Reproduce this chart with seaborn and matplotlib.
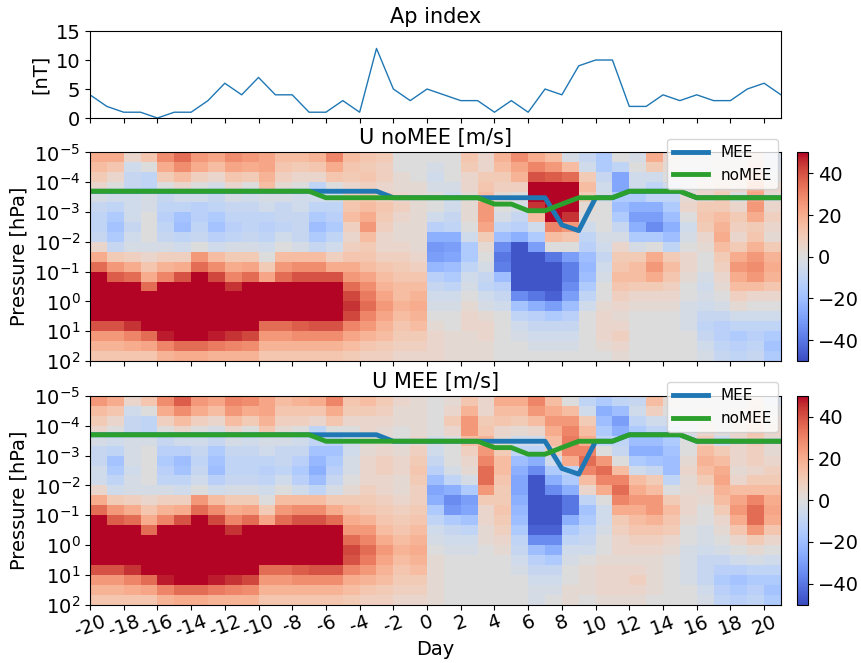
import numpy as np
import pandas as pd
import matplotlib
matplotlib.use('Agg')
import matplotlib.pyplot as plt
import seaborn as sns
from matplotlib.ticker import NullLocator

plt.rcParams['font.size'] = 14

# days -20..21 (cell edges of the heatmaps, points of the lines)
days = np.arange(-20, 22)
ap = [4, 2, 1, 1, 0, 1, 1, 3, 6, 4, 7, 4, 4, 1, 1, 3, 1, 12, 5, 3, 5,
      4, 3, 3, 1, 3, 1, 5, 4, 9, 10, 10, 2, 2, 4, 3, 4, 3, 3, 5, 6, 4]

mee_p = [2.0e-4] * 18 + [3.3e-4] * 10 + [2.7e-3, 4.2e-3, 3.3e-4, 3.3e-4] + [2.0e-4] * 4 + [3.3e-4] * 6
nomee_p = ([2.0e-4] * 14 + [3.3e-4] * 10 + [5.4e-4, 5.4e-4, 9.0e-4, 9.0e-4, 5.4e-4]
           + [3.3e-4] * 3 + [2.0e-4] * 4 + [3.3e-4] * 6)

# pressure cell edges, 3 per decade from 1e-5 to 1e2 hPa
p_edges = np.logspace(-5, 2, 22)

# wind profiles per day (top = 1e-5 hPa ... bottom = 1e2 hPa), m/s
u_nomee_cols = [
    [20, 15, 10, 5, -3, -8, -10, -10, -8, 5, 20, 35, 50, 50, 50, 50, 50, 40, 25, 18, 12],
    [20, 12, 5, 0, -5, -10, -15, -18, -15, -8, 10, 25, 38, 50, 50, 50, 50, 40, 25, 18, 12],
    [5, -5, -8, -8, -5, -5, -5, -8, -5, -3, 8, 20, 35, 50, 50, 50, 50, 45, 30, 20, 12],
    [12, 0, -10, -10, -3, -3, 0, 0, 0, -3, 5, 12, 20, 35, 50, 50, 50, 50, 35, 22, 12],
    [28, 20, 10, 0, -8, -10, -12, -10, -8, -3, 8, 18, 30, 50, 50, 50, 50, 50, 48, 30, 18],
    [35, 28, 15, 5, -5, -10, -18, -20, -10, -5, 8, 20, 40, 50, 50, 50, 50, 50, 50, 35, 20],
    [25, 20, 8, 0, -5, -12, -12, -10, -8, 0, 25, 35, 50, 50, 50, 50, 50, 50, 50, 35, 20],
    [22, 15, 5, -3, -8, -10, -15, -18, -12, -5, 15, 28, 42, 50, 50, 50, 50, 50, 48, 32, 18],
    [28, 22, 12, 5, -3, -8, -10, -12, -10, -3, 10, 20, 30, 45, 50, 50, 50, 50, 45, 30, 18],
    [25, 20, 10, 0, -5, -8, -10, -10, -8, -3, 10, 22, 35, 50, 50, 50, 50, 50, 42, 28, 18],
    [22, 22, 18, 15, -3, -5, -10, -12, -10, -5, 0, 10, 22, 50, 50, 50, 50, 35, 25, 18, 12],
    [15, 12, 8, 3, -3, -8, -8, -10, -5, 0, 15, 25, 35, 50, 50, 50, 50, 35, 25, 18, 12],
    [15, 10, 5, 0, -5, -5, -8, -8, -8, -3, 15, 28, 40, 50, 50, 50, 50, 38, 28, 18, 12],
    [18, 12, 5, -10, -5, -10, -15, -20, -15, -8, 15, 28, 40, 50, 50, 50, 50, 40, 28, 18, 12],
    [30, 20, 12, 0, -5, -10, -12, -15, -10, -5, 8, 20, 40, 50, 50, 50, 50, 40, 28, 18, 12],
    [15, 12, 10, 5, 10, 12, 15, 8, 5, 8, 12, 20, 25, 35, 42, 45, 42, 30, 22, 15, 10],
    [12, 10, 12, 8, 12, 15, 20, 25, 15, 10, 12, 15, 22, 28, 32, 35, 30, 25, 18, 12, 8],
    [10, 8, 8, 5, 8, 12, 10, 8, 5, 5, 8, 12, 15, 18, 22, 25, 22, 18, 15, 10, 8],
    [0, 0, 3, 3, 5, 8, 5, 3, 3, 5, 8, 10, 12, 15, 15, 18, 15, 12, 10, 8, 5],
    [0, 0, 0, 3, 3, 3, 3, 3, 3, 3, 5, 8, 12, 15, 18, 20, 18, 15, 10, 8, 5],
    [0, -3, -5, -3, 0, 0, -5, -12, -25, -32, -30, -22, -12, -8, -5, -3, 0, 3, 5, 5, 5],
    [0, 0, 0, -3, -5, -5, -8, -10, -25, -30, -28, -20, -15, -10, -5, -3, 0, 0, 3, 3, 3],
    [12, 10, 5, 5, 3, 3, 3, 0, -5, -15, -15, -10, -5, -3, 0, 3, 5, 5, 3, 3, 3],
    [5, 5, 10, 12, 15, 25, 25, 22, 10, 3, 0, -3, -8, -10, -5, -3, 3, 5, 5, 3, 3],
    [18, 15, 10, 8, 3, 0, -3, -10, -20, -35, -40, -38, -20, -12, -8, -5, 0, 0, 0, 0, 0],
    [28, 22, 18, 8, 0, -3, -8, -12, -25, -48, -48, -48, -48, -48, -35, -18, -10, -5, -3, 0, 0],
    [20, 30, 40, 50, 50, 45, 15, -5, -15, -30, -48, -48, -48, -48, -40, -25, -12, -8, -5, -3, 0],
    [15, 25, 38, 50, 50, 50, 50, 30, 15, 0, -40, -48, -48, -48, -45, -30, -15, -8, -5, -3, 0],
    [-3, 15, 35, 50, 50, 50, 45, 25, 12, 0, -30, -38, -38, -35, -30, -20, -12, -8, -5, -3, 0],
    [-8, -5, 10, 15, 10, 3, 0, -5, -10, -12, -20, -22, -20, -15, -10, -5, 0, 0, 0, 0, 0],
    [-15, -15, -8, -5, -3, 0, 0, 0, -3, -5, -8, -5, -3, 0, 0, 3, 5, 5, 5, 3, 0],
    [0, -10, -28, -28, -15, -20, -15, -8, -3, 5, 10, 12, 15, 12, 8, 5, 3, 5, 8, 5, 3],
    [-3, 0, -5, -5, -15, -25, -30, -25, -15, -3, 10, 15, 15, 10, 5, 3, 0, 0, 0, 0, 0],
    [20, 10, -5, -10, -10, -25, -30, -35, -15, 0, 20, 25, 20, 10, 5, 3, 0, 0, 0, 0, 0],
    [5, 3, 0, -5, -10, -15, -20, -25, -20, -10, 10, 15, 12, 8, 5, 3, 0, 0, 0, 0, 0],
    [0, 0, 0, 0, 3, 5, 0, -5, -3, 0, 5, 5, 3, 0, 0, -3, -3, -3, 0, 0, 0],
    [0, 0, 3, 5, 5, 10, 12, 10, 5, 3, 0, 0, -3, -5, -3, -5, -8, -10, -8, -5, -3],
    [0, 3, 5, 8, 10, 10, 15, 18, 20, 15, 10, 8, 5, 3, 0, -3, -8, -12, -12, -10, -8],
    [0, 3, 5, 5, 0, 5, 10, 8, 5, 10, 20, 25, 20, 15, 8, 3, -5, -10, -15, -12, -10],
    [5, 10, 15, 20, 22, 25, 20, 10, 12, 18, 25, 28, 25, 15, 5, 0, -5, -10, -12, -10, -8],
    [-5, -3, 0, 5, 3, 5, 8, 5, 3, 10, 18, 20, 18, 12, 5, 0, -5, -10, -15, -18, -15],
]

u_mee_cols = [
    [25, 15, 10, 5, -3, -8, -8, -5, -5, 5, 20, 35, 50, 50, 50, 50, 50, 40, 25, 18, 12],
    [20, 12, 5, 0, -5, -10, -18, -15, -10, -5, 10, 25, 38, 50, 50, 50, 50, 40, 25, 18, 12],
    [5, -5, -8, -8, -3, -3, -3, -5, -3, -3, 8, 20, 35, 50, 50, 50, 50, 45, 30, 20, 12],
    [12, 0, -10, -10, -3, 0, 0, 0, 0, -3, 5, 12, 20, 35, 50, 50, 50, 50, 35, 22, 12],
    [28, 20, 8, 0, -8, -12, -15, -12, -10, -3, 8, 18, 30, 50, 50, 50, 50, 50, 48, 30, 18],
    [38, 28, 15, 5, -5, -12, -20, -18, -10, -5, 8, 20, 40, 50, 50, 50, 50, 50, 50, 35, 20],
    [25, 20, 8, 0, -5, -8, -10, -8, -5, 0, 25, 35, 50, 50, 50, 50, 50, 50, 50, 35, 20],
    [22, 15, 5, -3, -8, -15, -18, -20, -12, -5, 15, 28, 42, 50, 50, 50, 50, 50, 48, 32, 18],
    [30, 25, 15, 5, -3, -8, -10, -10, -8, -3, 10, 20, 30, 45, 50, 50, 50, 50, 45, 30, 18],
    [28, 20, 10, 0, -5, -8, -10, -10, -8, -3, 10, 22, 35, 50, 50, 50, 50, 50, 42, 28, 18],
    [22, 22, 18, 12, -3, -5, -10, -12, -10, -5, 0, 10, 22, 50, 50, 50, 50, 35, 25, 18, 12],
    [15, 12, 8, 3, -3, -8, -8, -10, -5, 0, 15, 25, 35, 50, 50, 50, 50, 35, 25, 18, 12],
    [18, 12, 8, 0, -5, -8, -12, -15, -12, -5, 15, 28, 40, 50, 50, 50, 50, 38, 28, 18, 12],
    [20, 12, 5, -10, -10, -18, -22, -25, -20, -10, 15, 28, 40, 50, 50, 50, 50, 40, 28, 18, 12],
    [30, 20, 12, 0, -12, -18, -15, -12, -8, -3, 10, 20, 35, 50, 50, 50, 50, 40, 28, 18, 12],
    [12, 10, 5, 0, -5, -5, -3, -3, 0, 3, 10, 15, 20, 25, 35, 42, 40, 30, 20, 15, 10],
    [15, 10, 5, 5, 3, 3, 5, 5, 5, 8, 10, 12, 18, 25, 30, 35, 32, 25, 18, 12, 8],
    [10, 8, 5, 3, 3, 5, 8, 8, 5, 5, 8, 10, 12, 15, 20, 25, 22, 18, 15, 10, 8],
    [5, 3, 3, 0, 0, 3, 5, 5, 3, 3, 5, 8, 10, 12, 15, 18, 15, 12, 10, 8, 5],
    [3, 3, 3, 3, 5, 8, 10, 12, 10, 8, 8, 10, 12, 15, 18, 20, 18, 15, 10, 8, 5],
    [0, 0, 0, 0, -3, -5, -8, -12, -20, -28, -25, -15, -10, -5, -3, 0, 3, 3, 3, 3, 3],
    [3, 5, 10, 5, 0, 0, 0, -3, -10, -25, -35, -32, -15, -8, -5, -3, 0, 0, 0, 0, 0],
    [12, 18, 25, 25, 15, 8, 5, 3, -3, -15, -30, -28, -18, -10, -5, -3, 0, 0, 0, 0, 0],
    [5, 5, 10, 12, 18, 25, 30, 35, 35, 25, 10, 5, 5, 3, 3, 0, 0, 0, 0, 0, 0],
    [20, 15, 12, 5, 3, 10, 15, 15, 12, 10, 10, 12, 10, 8, 5, 3, 0, 0, 0, 0, 0],
    [20, 15, 10, 3, -5, -10, -20, -25, -28, -28, -25, -22, -20, -15, -10, -8, -5, -3, 0, 0, 0],
    [30, 25, 15, 5, -5, -10, -25, -35, -48, -48, -48, -48, -48, -45, -35, -20, -12, -8, -5, -3, -3],
    [15, 20, 25, 20, 15, 10, -5, -15, -25, -35, -48, -48, -48, -45, -35, -25, -15, -8, -5, -3, 0],
    [0, 15, 25, 30, 32, 30, 20, -10, -15, -25, -40, -40, -25, -15, -10, -5, -3, 0, 0, 3, 3],
    [-10, -5, 10, 15, 20, 30, 35, 30, 15, 5, -10, -18, -15, -10, -8, -5, 0, 3, 3, 3, 0],
    [-15, -25, -20, -15, -10, 0, 25, 35, 30, 20, 0, -5, -5, -3, 0, 0, 3, 5, 5, 5, 3],
    [-10, -20, -30, -25, -10, -8, 0, 15, 30, 35, 30, 20, 10, 8, 5, 5, 3, 5, 5, 5, 3],
    [-8, -5, -10, -15, -20, -25, -15, -5, 15, 20, 25, 20, 15, 12, 8, 5, 3, 5, 8, 5, 3],
    [15, 8, -5, -10, -20, -25, -18, -8, 10, 15, 25, 25, 18, 12, 8, 5, 3, 3, 3, 3, 0],
    [3, 0, -5, -10, -15, -18, -20, -20, -10, 0, 10, 15, 12, 10, 5, 3, 0, 0, 0, 0, 0],
    [0, 0, 0, -3, 0, 0, 3, 5, 3, 3, 5, 5, 3, 0, 0, -3, -3, -3, -3, 0, 0],
    [0, 3, 3, 5, 10, 15, 18, 15, 10, 5, 3, 0, 0, -3, -3, -5, -8, -8, -8, -5, -3],
    [0, 0, 0, 0, -5, 10, 15, 20, 22, 18, 15, 10, 5, 3, 0, -3, -8, -12, -15, -12, -10],
    [0, 3, 5, 5, 5, 5, 5, 3, 5, 15, 22, 25, 20, 12, 5, 0, -5, -12, -18, -15, -12],
    [5, 8, 10, 12, 10, 8, 8, 5, 10, 15, 30, 35, 35, 25, 10, 3, -3, -10, -15, -12, -10],
    [-5, 0, 3, 5, 3, 3, 5, 8, 10, 15, 20, 22, 20, 12, 5, 0, -5, -10, -15, -18, -15],
]

u_nomee = np.array(u_nomee_cols).T
u_mee = np.array(u_mee_cols).T

lines = pd.DataFrame({
    'Day': np.concatenate([days, days]),
    'p': mee_p + nomee_p,
    'run': ['MEE'] * len(days) + ['noMEE'] * len(days),
})

fig = plt.figure(figsize=(8.62, 6.63), dpi=100)

# Ap index
ax0 = fig.add_axes([0.1044, 0.822, 0.8016, 0.1312])
sns.lineplot(x=days, y=ap, ax=ax0, color='tab:blue', lw=1)
ax0.set_xlim(-20, 21)
ax0.set_ylim(0, 15)
ax0.set_xticks(range(-20, 21, 2))
ax0.set_xticklabels([])
ax0.set_yticks([0, 5, 10, 15])
ax0.set_ylabel('[nT]')
ax0.set_title('Ap index', fontsize=15)


def wind_panel(pos, cpos, u, title, last):
    ax = fig.add_axes(pos)
    cax = fig.add_axes(cpos)
    mesh = ax.pcolormesh(days, p_edges, u, cmap='coolwarm', vmin=-50, vmax=50)
    sns.lineplot(data=lines, x='Day', y='p', hue='run',
                 palette=['tab:blue', 'tab:green'], lw=3.5, ax=ax)
    ax.set_yscale('log')
    ax.set_ylim(1e2, 1e-5)
    ax.set_xlim(-20, 21)
    ax.set_yticks([1e-5, 1e-4, 1e-3, 1e-2, 1e-1, 1e0, 1e1, 1e2])
    ax.yaxis.set_minor_locator(NullLocator())
    ticks = list(range(-20, 21, 2))
    ax.set_xticks(ticks)
    if last:
        ax.set_xticklabels([str(t) for t in ticks], rotation=20)
        ax.tick_params(axis='x', pad=2)
        ax.set_xlabel('Day', labelpad=-1)
    else:
        ax.set_xticklabels([])
        ax.set_xlabel('')
    ax.set_ylabel('Pressure [hPa]')
    ax.set_title(title, fontsize=15)
    sns.move_legend(ax, 'upper right', bbox_to_anchor=(1.0, 1.08), title=None,
                    fontsize=11, borderaxespad=0.2, handlelength=2.3)
    cb = fig.colorbar(mesh, cax=cax, ticks=[-40, -20, 0, 20, 40])
    cb.ax.tick_params(labelsize=14)
    return ax


wind_panel([0.1044, 0.4555, 0.8016, 0.3145], [0.9246, 0.4555, 0.0128, 0.3145],
           u_nomee, 'U noMEE [m/s]', False)
wind_panel([0.1044, 0.0882, 0.8016, 0.3145], [0.9246, 0.0882, 0.0128, 0.3145],
           u_mee, 'U MEE [m/s]', True)

fig.savefig('out.png', dpi=100)
